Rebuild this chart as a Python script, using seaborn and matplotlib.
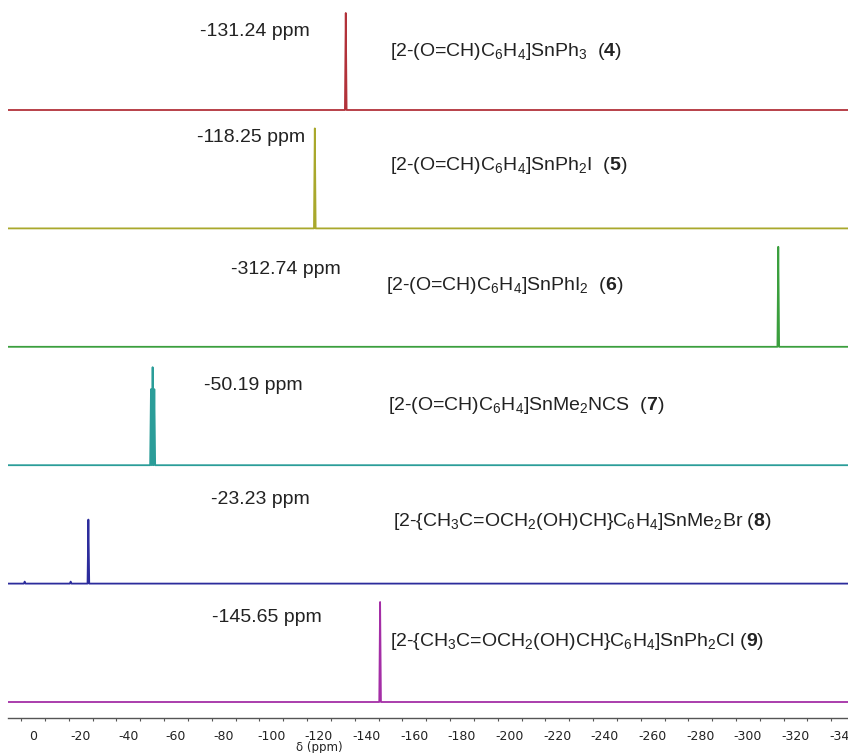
import pandas as pd
import seaborn as sns
import matplotlib.pyplot as plt
from matplotlib.ticker import MultipleLocator, FuncFormatter

# 119Sn NMR data for the six compounds (top to bottom)
compounds = ["4", "5", "6", "7", "8", "9"]
shift_labels = ["-131.24 ppm", "-118.25 ppm", "-312.74 ppm", "-50.19 ppm", "-23.23 ppm", "-145.65 ppm"]
formulas = [
    r"[2-(O=CH)C$_6$H$_4$]SnPh$_3$  ($\mathbf{4}$)",
    r"[2-(O=CH)C$_6$H$_4$]SnPh$_2$I  ($\mathbf{5}$)",
    r"[2-(O=CH)C$_6$H$_4$]SnPhI$_2$  ($\mathbf{6}$)",
    r"[2-(O=CH)C$_6$H$_4$]SnMe$_2$NCS  ($\mathbf{7}$)",
    r"[2-{CH$_3$C=OCH$_2$(OH)CH}C$_6$H$_4$]SnMe$_2$Br ($\mathbf{8}$)",
    r"[2-{CH$_3$C=OCH$_2$(OH)CH}C$_6$H$_4$]SnPh$_2$Cl ($\mathbf{9}$)",
]
# peaks per spectrum: positions (ppm) and heights (relative)
peak_pos = [
    [-131.24],
    [-118.25],
    [-312.74],
    [-49.5, -50.19, -50.9],
    [3.5, -15.8, -23.23],
    [-145.65],
]
peak_height = [
    [97],
    [100],
    [100],
    [76, 98, 76],
    [2, 2, 64],
    [100],
]
colors = ["#b2323a", "#a9a82c", "#3b9f3e", "#2b9d99", "#2c2c9c", "#a42ea6"]

X_LEFT, X_RIGHT = 10.5, -342
spacing = 118.4

rows = []
for i, comp in enumerate(compounds):
    base = 16 + spacing * (5 - i)
    pts = [(X_LEFT, base)]
    for p, h in sorted(zip(peak_pos[i], peak_height[i]), reverse=True):
        pts += [(p + 0.35, base), (p, base + h), (p - 0.35, base)]
    pts.append((X_RIGHT, base))
    for k, (x, y) in enumerate(pts):
        rows.append({"compound": comp, "order": k, "shift": x, "y": y})
df = pd.DataFrame(rows)

sns.set_style("white")
plt.rcParams["axes.unicode_minus"] = False
plt.rcParams["mathtext.fontset"] = "custom"
plt.rcParams["mathtext.rm"] = "Liberation Sans"
plt.rcParams["mathtext.it"] = "Liberation Sans:italic"
plt.rcParams["mathtext.bf"] = "Liberation Sans:bold"

fig = plt.figure(figsize=(8.48, 7.53), dpi=100)
ax = fig.add_axes([8 / 848, 35 / 753, 840 / 848, 718 / 753])

sns.lineplot(data=df, x="shift", y="y", hue="compound", units="compound",
             estimator=None, sort=False, palette=colors, legend=False,
             linewidth=1.3, ax=ax)

# labels: ppm value and formula for each spectrum
ppm_xy = [(-116, 686), (-114, 581), (-129, 448), (-113, 332), (-116, 219), (-121, 101)]
form_xy = [(-150, 666), (-150, 553), (-148, 433), (-149, 313), (-151, 196), (-150, 76)]
for i in range(6):
    ax.text(ppm_xy[i][0], ppm_xy[i][1], shift_labels[i], ha="right", va="center",
            fontsize=14, family="Liberation Sans", color="#222222")
    ax.text(form_xy[i][0], form_xy[i][1], formulas[i], ha="left", va="center",
            fontsize=14, family="Liberation Sans", color="#222222")

ax.set_xlim(X_LEFT, X_RIGHT)
ax.set_ylim(0, 718)
ax.set_yticks([])
ax.set_ylabel("")
ax.set_xlabel("")
for s in ["top", "left", "right"]:
    ax.spines[s].set_visible(False)
ax.spines["bottom"].set_color("#555555")
ax.spines["bottom"].set_linewidth(1.0)
ax.xaxis.set_major_locator(MultipleLocator(10))
ax.xaxis.set_minor_locator(MultipleLocator(5))
ax.xaxis.set_major_formatter(FuncFormatter(
    lambda v, pos: f"{v:.0f}" if round(v) % 20 == 0 else ""))
ax.tick_params(axis="x", which="major", length=4.5, width=0.8, color="#555555",
               labelsize=9, pad=4, labelcolor="#222222")
ax.tick_params(axis="x", which="minor", bottom=True, length=2.5, width=0.8, color="#555555")
for lab in ax.get_xticklabels():
    lab.set_family("DejaVu Sans")
ax.text(-120, -29, "δ (ppm)", ha="center", va="center", fontsize=8.5,
        family="DejaVu Sans", color="#222222", clip_on=False)

fig.savefig("out.png", dpi=100)
